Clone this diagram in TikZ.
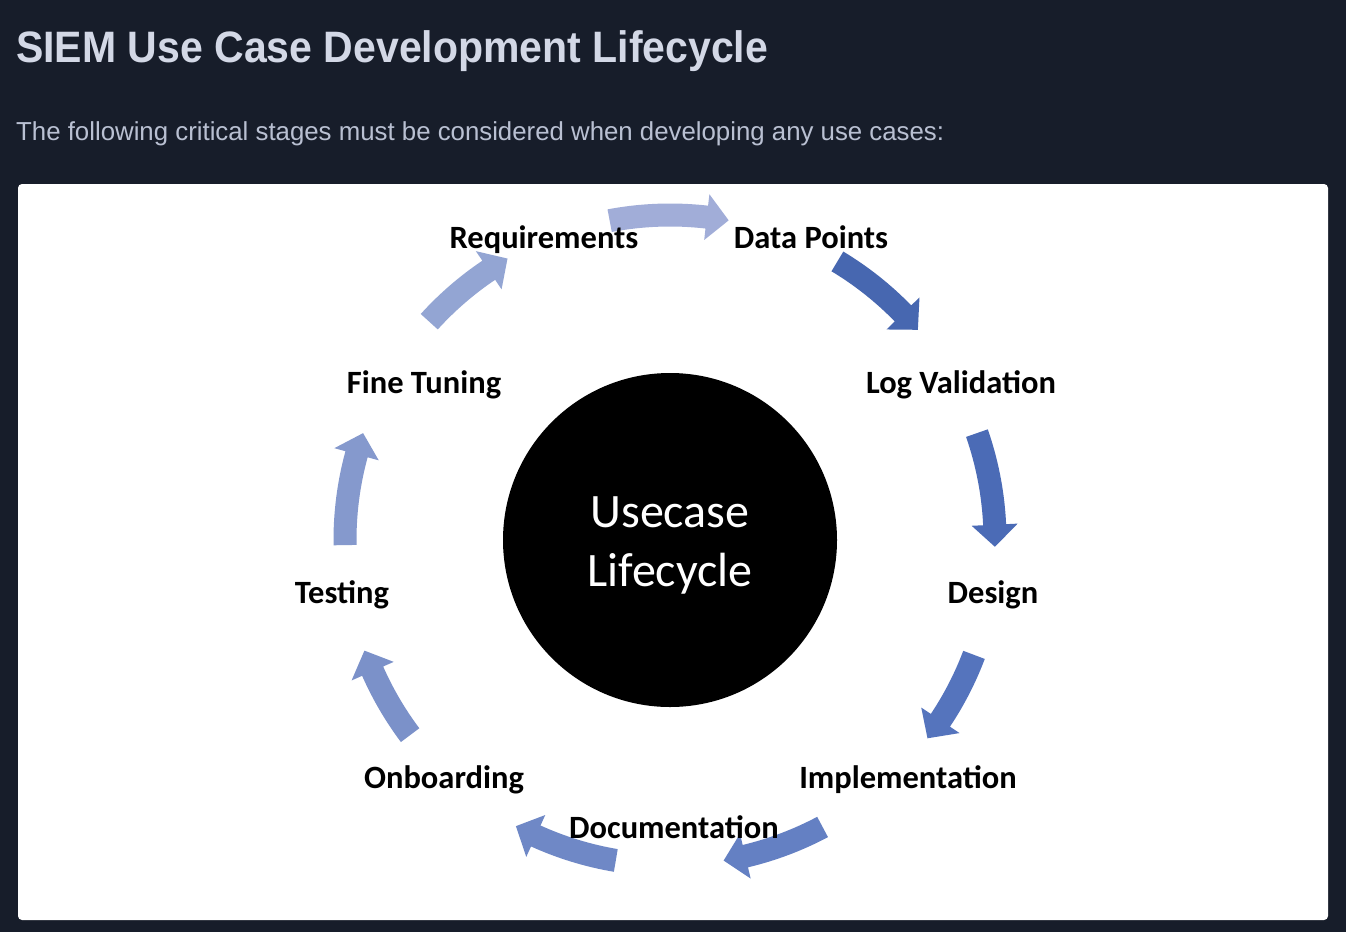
\documentclass[tikz,border=0pt]{standalone}
\usepackage{fontspec}
\usepackage{graphicx}
\setmainfont{Carlito}
\newfontfamily\headfont{Liberation Sans}
\definecolor{pagebg}{HTML}{171D2A}
\definecolor{titlefg}{HTML}{D3D8E6}
\definecolor{subfg}{HTML}{B9C0D2}
\definecolor{arA}{HTML}{A1ADD8}
\definecolor{arB}{HTML}{4767B0}
\definecolor{arC}{HTML}{4B6BB6}
\definecolor{arD}{HTML}{5574BD}
\definecolor{arE}{HTML}{6480C3}
\definecolor{arF}{HTML}{6F88C6}
\definecolor{arG}{HTML}{7B91C9}
\definecolor{arH}{HTML}{8599CD}
\definecolor{arI}{HTML}{93A5D3}
% curved block arrow on the ring: tail angle, tip angle, colour
\newcommand{\cyclearrow}[3]{%
  \pgfmathsetmacro{\thb}{#2+3.9}%
  \fill[#3] (#1:336.5pt) arc[start angle=#1, end angle=\thb, radius=336.5pt]
    -- (\thb:348pt) -- (#2:325pt) -- (\thb:302pt) -- (\thb:313.5pt)
    arc[start angle=\thb, end angle=#1, radius=313.5pt] -- cycle;}
\tikzset{
  stage/.style={anchor=base, inner sep=0pt, font=\bfseries\fontsize{32.5}{32.5}\selectfont, text=black},
}
\begin{document}
\begin{tikzpicture}[x=1pt, y=-1pt]
  \useasboundingbox (0,0) rectangle (1346,932);
  \fill[pagebg] (0,0) rectangle (1346,932);
  \node[anchor=base west, inner sep=0pt, text=titlefg] (title) at (16,62)
    {\resizebox{752pt}{\height}{\headfont\bfseries\fontsize{44}{44}\selectfont SIEM Use Case Development Lifecycle}};
  \node[anchor=base west, inner sep=0pt, text=subfg] (subtitle) at (16,140)
    {\resizebox{928pt}{\height}{\headfont\fontsize{26}{26}\selectfont The following critical stages must be considered when developing any use cases:}};
  \fill[white, rounded corners=4pt] (18,184) rectangle (1328,920);

  % hub
  \fill[black] (670,540) circle[radius=167pt];
  \node[text=white, align=center, inner sep=0pt, font=\fontsize{48}{59}\selectfont] (hub) at (670,545) {Usecase\\Lifecycle};

  % ring arrows
  \begin{scope}[shift={(670,540)}]
    \cyclearrow{100.7}{79.6}{arA}
    \cyclearrow{59.0}{40.3}{arB}
    \cyclearrow{19.2}{-1.2}{arC}
    \cyclearrow{-20.7}{-37.6}{arD}
    \cyclearrow{-62.0}{-80.5}{arE}
    \cyclearrow{-99.6}{-118.3}{arF}
    \cyclearrow{-143.1}{-160.1}{arG}
    \cyclearrow{180.9}{160.8}{arH}
    \cyclearrow{137.8}{120.0}{arI}
  \end{scope}

  % stage labels
  \node[stage] (req) at (544,248) {Requirements};
  \node[stage] (dp) at (811,248) {Data Points};
  \node[stage] (lv) at (961,393) {Log Validation};
  \node[stage] (des) at (993,603) {Design};
  \node[stage] (imp) at (908,788) {Implementation};
  \node[stage] (doc) at (674,838) {Documentation};
  \node[stage] (onb) at (444,788) {Onboarding};
  \node[stage] (tst) at (342,603) {Testing};
  \node[stage] (ft) at (424,393) {Fine Tuning};
\end{tikzpicture}
\end{document}
